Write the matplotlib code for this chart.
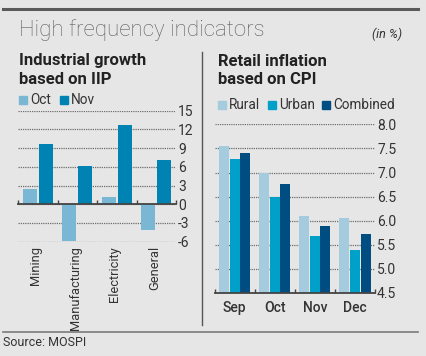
import numpy as np
import matplotlib
matplotlib.use("Agg")
import matplotlib.pyplot as plt
from matplotlib.lines import Line2D
from matplotlib.patches import Rectangle

# --- data -----------------------------------------------------------------
iip_categories = ["Mining", "Manufacturing", "Electricity", "General"]
iip_oct = [2.5, -5.9, 1.2, -4.2]
iip_nov = [9.7, 6.1, 12.7, 7.1]
iip_ticks = [-6, -3, 0, 3, 6, 9, 12, 15]

cpi_months = ["Sep", "Oct", "Nov", "Dec"]
cpi_rural = [7.56, 6.98, 6.09, 6.05]
cpi_urban = [7.27, 6.50, 5.68, 5.39]
cpi_combined = [7.41, 6.77, 5.88, 5.72]
cpi_ticks = [4.5, 5.0, 5.5, 6.0, 6.5, 7.0, 7.5, 8.0]

# --- style ----------------------------------------------------------------
BG = "#e6e6e6"
TXT = "#333333"
C_OCT, C_NOV = "#79b7d4", "#0083b3"
C_RUR, C_URB, C_COM = "#a5cbde", "#00a0c9", "#004d82"

plt.rcParams["font.family"] = ["Roboto", "DejaVu Sans"]
plt.rcParams["axes.unicode_minus"] = False

W, H = 426, 356
fig = plt.figure(figsize=(W / 100, H / 100), dpi=100, facecolor=BG)


def fx(x):
    return x / W


def fy(y):
    return 1 - y / H


def axes_px(x0, x1, ytop, ybot):
    return fig.add_axes([fx(x0), fy(ybot), fx(x1 - x0), (ybot - ytop) / H])


def style_axes(ax, ticks):
    ax.set_facecolor(BG)
    for s in ("top", "left", "right"):
        ax.spines[s].set_visible(False)
    ax.spines["bottom"].set_color("#444444")
    ax.spines["bottom"].set_linewidth(1.3)
    ax.yaxis.tick_right()
    ax.set_yticks(ticks)
    ax.tick_params(axis="y", length=0, pad=1.5, labelsize=10, labelcolor=TXT)
    ax.yaxis.grid(True, linestyle=(0, (1, 0.8)), color="#6e6e6e", linewidth=0.9)
    ax.set_axisbelow(True)
    n = 4
    ax.set_xlim(-0.5, n - 0.5)
    ax.set_xticks(np.arange(-0.5, n, 1.0), minor=True)
    ax.tick_params(axis="x", which="minor", direction="in", length=3,
                   width=1.0, color="#444444")


def legend_px(items, y):
    for x, label, color in items:
        fig.add_artist(Rectangle((fx(x), fy(y + 4)), fx(8), 8 / H,
                                 color=color, transform=fig.transFigure))
        fig.text(fx(x + 11), fy(y), label, fontsize=9.8, color=TXT,
                 va="center", ha="left")


# --- left: IIP ------------------------------------------------------------
ax1 = axes_px(18, 176, 110.7, 241.7)
style_axes(ax1, iip_ticks)
ax1.set_ylim(-6, 15)
ax1.spines["bottom"].set_position(("data", 0))
ax1.set_xticks([])
x = np.arange(len(iip_categories))
bw, off = 0.355, 0.2
ax1.bar(x - off, iip_oct, bw, color=C_OCT, zorder=2)
ax1.bar(x + off, iip_nov, bw, color=C_NOV, zorder=2)
for i, name in enumerate(iip_categories):
    ax1.text(i - 0.05, -0.035, name, transform=ax1.get_xaxis_transform(),
             rotation=90, ha="center", va="top", fontsize=9.3, color=TXT)

# --- right: CPI -----------------------------------------------------------
ax2 = axes_px(214.5, 375, 124.3, 293)
style_axes(ax2, cpi_ticks)
ax2.set_ylim(4.5, 8.0)
ax2.set_yticklabels([f"{t:.1f}" for t in cpi_ticks])
x = np.arange(len(cpi_months))
bw, off = 0.25, 0.265
ax2.bar(x - off, cpi_rural, bw, color=C_RUR, zorder=2)
ax2.bar(x, cpi_urban, bw, color=C_URB, zorder=2)
ax2.bar(x + off, cpi_combined, bw, color=C_COM, zorder=2)
ax2.set_xticks(x)
ax2.set_xticklabels(cpi_months)
ax2.tick_params(axis="x", which="major", length=0, pad=6, labelsize=10,
                labelcolor=TXT)
for lab in ax2.get_xticklabels():
    lab.set_fontweight("medium")

# --- frame, titles, legends -----------------------------------------------
fig.add_artist(Line2D([fx(3), fx(418)], [fy(9), fy(9)], color="#5a5a5a", lw=2.2))
fig.add_artist(Line2D([fx(3), fx(418)], [fy(332), fy(332)], color="#7a7a7a", lw=1.2))
fig.add_artist(Line2D([fx(202), fx(202)], [fy(52), fy(325)], color="#555555", lw=1.0))

fig.text(fx(19), fy(30), "High frequency indicators", fontsize=16,
         color="#5e5e5e", va="center", ha="left",
         family=["Roboto", "DejaVu Sans"], fontweight="light")
fig.text(fx(402), fy(34), "(in %)", fontsize=9, style="italic", color=TXT,
         va="center", ha="right")
fig.text(fx(19), fy(61), "Industrial growth", fontsize=12, fontweight="bold",
         color="#222222", va="center")
fig.text(fx(19), fy(79), "based on IIP", fontsize=12, fontweight="bold",
         color="#222222", va="center")
fig.text(fx(218), fy(61), "Retail inflation", fontsize=12, fontweight="bold",
         color="#222222", va="center")
fig.text(fx(218), fy(79), "based on CPI", fontsize=12, fontweight="bold",
         color="#222222", va="center")
fig.text(fx(3), fy(343), "Source: MOSPI", fontsize=9, color=TXT, va="center")

legend_px([(19, "Oct", C_OCT), (60, "Nov", C_NOV)], 99.5)
legend_px([(218, "Rural", C_RUR), (268, "Urban", C_URB),
           (322, "Combined", C_COM)], 105)

fig.savefig("out.png", dpi=100, facecolor=BG)
